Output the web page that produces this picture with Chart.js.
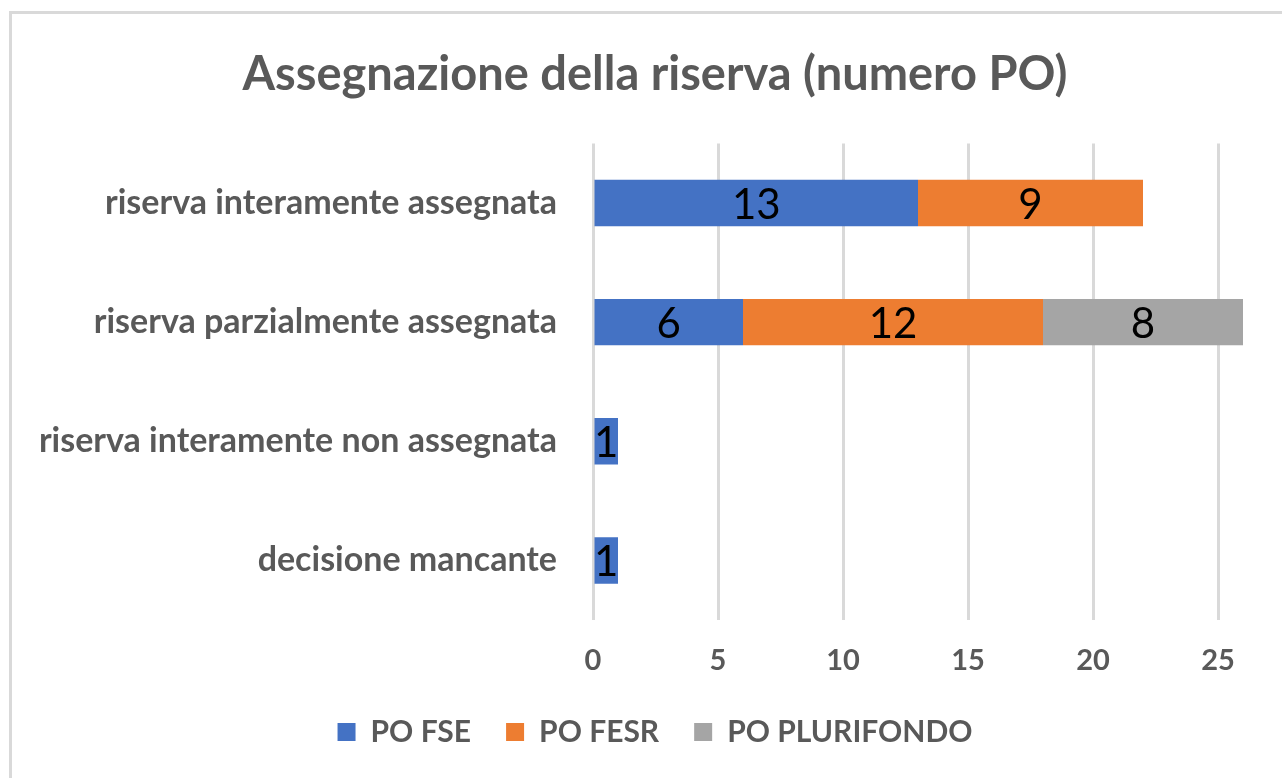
<!DOCTYPE html>
<html>
<head>
<meta charset="utf-8">
<script src="https://cdn.jsdelivr.net/npm/chart.js@4.4.1/dist/chart.umd.min.js"></script>
<style>
  html, body { margin: 0; padding: 0; background: #fff; overflow: hidden; }
  #frame { position: absolute; left: 9px; top: 11px; width: 1400px; height: 900px; border: 3px solid #d9d9d9; }
  #wrap { position: absolute; left: 0; top: 0; width: 1282px; height: 778px; }
</style>
</head>
<body>
<div id="frame"></div>
<div id="wrap"><canvas id="chart" width="1282" height="778"></canvas></div>
<script>
// categories and series
const categories = [
  'riserva interamente assegnata',
  'riserva parzialmente assegnata',
  'riserva interamente non assegnata',
  'decisione mancante'
];
const poFse = [13, 6, 1, 1];
const poFesr = [9, 12, 0, 0];
const poPlurifondo = [0, 8, 0, 0];
const xTicks = [0, 5, 10, 15, 20, 25];

const FONT = 'Lato, "Open Sans", sans-serif';
const GREY = '#595959';

// draws the value inside each segment, like Excel data labels
const barLabels = {
  id: 'barLabels',
  afterDatasetsDraw(chart) {
    const ctx = chart.ctx;
    ctx.save();
    ctx.font = '42px ' + FONT;
    ctx.fillStyle = '#000';
    ctx.textAlign = 'center';
    ctx.textBaseline = 'middle';
    chart.data.datasets.forEach(function(ds, i) {
      const meta = chart.getDatasetMeta(i);
      meta.data.forEach(function(bar, j) {
        const v = ds.data[j];
        if (!v) return;
        ctx.fillText(String(v), (bar.x + bar.base) / 2, bar.y + 2);
      });
    });
    ctx.restore();
  }
};

// let the long category labels run into the left padding instead of being clipped
const unclipY = {
  id: 'unclipY',
  afterLayout(chart) { chart.scales.y.left = 0; }
};

new Chart(document.getElementById('chart'), {
  type: 'bar',
  data: {
    labels: categories,
    datasets: [
      { label: 'PO FSE', data: poFse, backgroundColor: '#4472C4' },
      { label: 'PO FESR', data: poFesr, backgroundColor: '#ED7D31' },
      { label: 'PO PLURIFONDO', data: poPlurifondo, backgroundColor: '#A5A5A5' }
    ]
  },
  options: {
    indexAxis: 'y',
    responsive: false,
    animation: false,
    categoryPercentage: 0.39,
    barPercentage: 1,
    // left padding shifts the title and legend centre to the right, as in Excel
    layout: { padding: { top: 47, right: 39, bottom: 21, left: 67 } },
    scales: {
      x: {
        stacked: true,
        min: 0,
        max: 26,
        ticks: { stepSize: 5, padding: 23, color: GREY, font: { family: FONT, size: 29, weight: 'bold' } },
        afterBuildTicks(scale) {
          scale.ticks = xTicks.map(function(v) { return { value: v }; });
        },
        afterFit(scale) { scale.height = 62; },
        grid: { color: '#d9d9d9', lineWidth: 3, drawTicks: false },
        border: { display: false }
      },
      y: {
        stacked: true,
        ticks: { padding: 36, color: GREY, font: { family: FONT, size: 34, weight: 'bold' } },
        afterFit(scale) { scale.width = 526; },
        grid: { display: false, drawTicks: false },
        border: { display: false }
      }
    },
    plugins: {
      title: {
        display: true,
        text: 'Assegnazione della riserva (numero PO)',
        color: GREY,
        font: { family: FONT, size: 47, weight: 'bold' },
        padding: { top: 0, bottom: 40 }
      },
      legend: {
        position: 'bottom',
        labels: {
          color: GREY,
          boxWidth: 18,
          boxHeight: 18,
          padding: 35,
          font: { family: FONT, size: 30, weight: 'bold' }
        }
      },
      tooltip: { enabled: false }
    }
  },
  plugins: [barLabels, unclipY]
});
</script>
</body>
</html>
